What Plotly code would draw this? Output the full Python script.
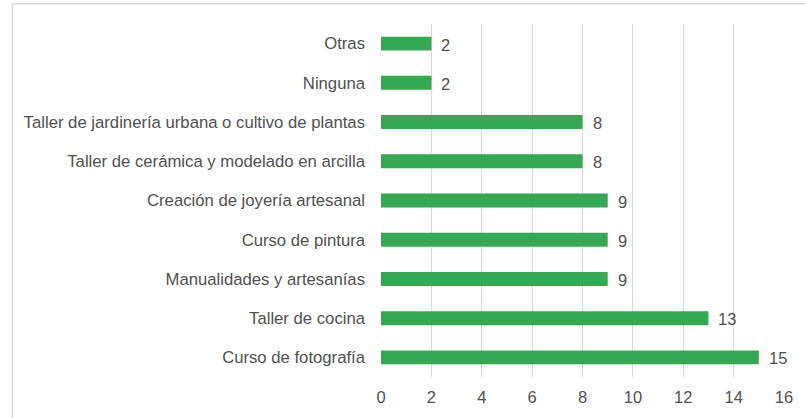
import plotly.graph_objects as go

categories = [
    "Otras",
    "Ninguna",
    "Taller de jardinería urbana o cultivo de plantas",
    "Taller de cerámica y modelado en arcilla",
    "Creación de joyería artesanal",
    "Curso de pintura",
    "Manualidades y artesanías",
    "Taller de cocina",
    "Curso de fotografía",
]
values = [2, 2, 8, 8, 9, 9, 9, 13, 15]
x_ticks = [0, 2, 4, 6, 8, 10, 12, 14, 16]

W, H = 805, 418
ml, mr, mt, mb = 381, 19, 24, 37
FONT = "Liberation Sans, Arial"
TXT = "#505050"

fig = go.Figure()
fig.add_trace(go.Bar(
    x=values, y=categories, orientation="h",
    marker=dict(color="#34A853", line=dict(width=0)),
    hoverinfo="x+y",
))

for c, v in zip(categories, values):
    fig.add_annotation(x=v, y=c, text=str(v), showarrow=False,
                       xanchor="left", xshift=8, yshift=-1,
                       font=dict(family=FONT, size=16.5, color=TXT))

pw = W - ml - mr
ph = H - mt - mb
fig.add_shape(type="rect", xref="paper", yref="paper",
              x0=(10.5 - ml) / pw, x1=(840 - ml) / pw,
              y0=(H - 460 - mb) / ph, y1=(H - 3.5 - mb) / ph,
              line=dict(color="#D9D9D9", width=1.5), layer="below")

fig.update_layout(
    width=W, height=H,
    margin=dict(l=ml, r=mr, t=mt, b=mb, pad=0),
    paper_bgcolor="white", plot_bgcolor="white",
    bargap=0.645,
    showlegend=False,
    font=dict(family=FONT, size=16.7, color=TXT),
    xaxis=dict(range=[0, 16], tickvals=x_ticks, showgrid=True, gridcolor="#D9D9D9",
               gridwidth=1, zeroline=False, showline=False, ticks="",
               ticklabelstandoff=8, tickfont=dict(size=16.5), fixedrange=True),
    yaxis=dict(autorange="reversed", showgrid=False, zeroline=False, showline=False,
               ticks="", ticklabelstandoff=15, fixedrange=True),
)

fig.write_html("out.html", config={"displayModeBar": False},
               post_script="document.body.style.margin='0';document.body.style.padding='0';document.body.style.overflow='hidden';")
